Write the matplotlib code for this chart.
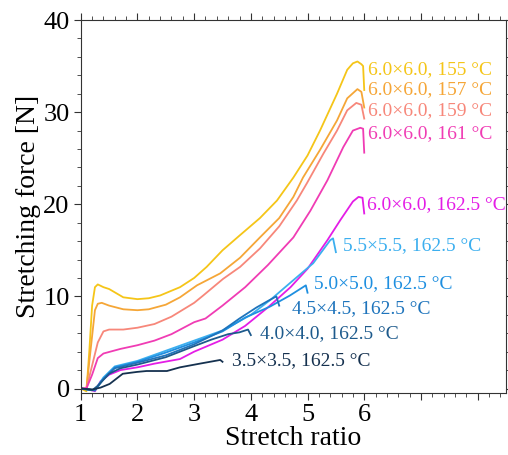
import matplotlib.pyplot as plt
from matplotlib.ticker import MultipleLocator

plt.rcParams['font.family'] = ['Liberation Serif', 'DejaVu Serif']

# 6.0x6.0 draw ratio at different temperatures
x_155 = [1.0, 1.1, 1.15, 1.2, 1.25, 1.3, 1.4, 1.5, 1.75, 2.0, 2.2, 2.4, 2.75, 3.0, 3.22, 3.5, 3.8,
         4.16, 4.46, 4.75, 5.0, 5.22, 5.52, 5.7, 5.8, 5.88, 5.95, 5.98, 6.0]
y_155 = [0, -0.3, 4.0, 9.0, 11.0, 11.3, 11.0, 10.8, 9.9, 9.7, 9.8, 10.1, 11.0, 12.0, 13.2, 15.0, 16.6,
         18.5, 20.4, 22.9, 25.3, 28.0, 32.0, 34.6, 35.3, 35.5, 35.2, 35.0, 32.4]

x_157 = [1.0, 1.1, 1.17, 1.25, 1.3, 1.37, 1.5, 1.75, 2.0, 2.2, 2.5, 2.75, 3.05, 3.46, 3.81, 4.16,
         4.5, 4.75, 4.92, 5.22, 5.52, 5.7, 5.88, 5.95, 6.0]
y_157 = [0, 0, 4.0, 8.5, 9.2, 9.3, 9.0, 8.6, 8.5, 8.6, 9.1, 9.9, 11.2, 12.5, 14.2, 16.4,
         18.5, 20.8, 22.9, 25.9, 29.1, 31.5, 32.5, 32.2, 30.5]

x_159 = [1.0, 1.1, 1.2, 1.3, 1.4, 1.5, 1.75, 2.0, 2.3, 2.6, 3.0, 3.16, 3.51, 3.81, 4.16, 4.5,
         4.81, 4.99, 5.28, 5.52, 5.7, 5.86, 5.95, 6.0]
y_159 = [0, 0, 2.5, 5.0, 6.2, 6.4, 6.4, 6.6, 7.0, 7.8, 9.3, 10.1, 11.9, 13.2, 15.2, 17.6,
         20.4, 22.3, 25.5, 28.0, 30.2, 31.0, 30.8, 29.3]

x_161 = [1.0, 1.1, 1.2, 1.3, 1.4, 1.7, 2.0, 2.3, 2.6, 3.0, 3.2, 3.5, 3.9, 4.3, 4.75, 5.05,
         5.35, 5.63, 5.8, 5.93, 5.98, 6.0]
y_161 = [0, 0, 1.5, 3.3, 3.8, 4.3, 4.7, 5.2, 5.9, 7.2, 7.6, 9.0, 11.0, 13.4, 16.4, 19.3,
         22.6, 26.2, 28.0, 28.3, 28.2, 25.6]

# 162.5 degC at different draw ratios
x_60 = [1.0, 1.1, 1.25, 1.35, 1.5, 1.7, 2.0, 2.3, 2.75, 3.0, 3.5, 3.9, 4.3, 4.7, 5.0, 5.35,
        5.58, 5.8, 5.9, 5.97, 6.0]
y_60 = [0, 0, -0.3, 0.8, 1.5, 2.0, 2.3, 2.7, 3.2, 4.0, 5.3, 6.8, 8.8, 11.0, 13.0, 16.1,
        18.3, 20.3, 20.8, 20.7, 19.0]

x_55 = [1.0, 1.25, 1.4, 1.6, 2.0, 2.5, 3.0, 3.5, 4.0, 4.34, 4.7, 5.1, 5.4, 5.45, 5.5]
y_55 = [0, -0.2, 1.2, 2.4, 3.0, 4.1, 5.2, 6.3, 8.0, 9.6, 11.5, 13.6, 16.1, 16.3, 14.8]

x_50 = [1.0, 1.25, 1.4, 1.6, 2.0, 2.5, 3.0, 3.5, 3.9, 4.34, 4.69, 4.97, 5.0]
y_50 = [0, -0.2, 1.1, 2.3, 2.9, 3.9, 5.0, 6.2, 7.7, 8.9, 10.1, 11.2, 10.4]

x_45 = [1.0, 1.25, 1.4, 1.6, 2.0, 2.5, 3.0, 3.5, 3.8, 4.1, 4.3, 4.45, 4.5]
y_45 = [0, -0.2, 1.0, 2.2, 2.8, 3.6, 4.8, 6.3, 7.6, 8.8, 9.5, 10.0, 9.0]

x_40 = [1.0, 1.2, 1.3, 1.5, 1.7, 2.0, 2.5, 3.0, 3.3, 3.6, 3.8, 3.95, 4.0]
y_40 = [0, -0.2, 0.3, 1.6, 2.2, 2.6, 3.4, 4.6, 5.3, 5.9, 6.1, 6.4, 5.8]

x_35 = [1.0, 1.21, 1.35, 1.51, 1.74, 1.99, 2.16, 2.52, 2.75, 3.1, 3.46, 3.5]
y_35 = [0, -0.1, 0.1, 0.5, 1.6, 1.8, 1.9, 1.9, 2.3, 2.7, 3.1, 2.9]

labels = ['6.0×6.0, 155 °C', '6.0×6.0, 157 °C', '6.0×6.0, 159 °C', '6.0×6.0, 161 °C',
          '6.0×6.0, 162.5 °C', '5.5×5.5, 162.5 °C', '5.0×5.0, 162.5 °C',
          '4.5×4.5, 162.5 °C', '4.0×4.0, 162.5 °C', '3.5×3.5, 162.5 °C']
colors = ['#F5C518', '#F5A637', '#F7877A', '#F03CB4', '#E41DE6',
          '#3CAFEF', '#1E8FE0', '#1E74BC', '#1D5A8C', '#15314F']
label_x = [6.07, 6.07, 6.07, 6.07, 6.05, 5.63, 5.12, 4.73, 4.16, 3.67]
label_y = [34.6, 32.4, 30.2, 27.7, 20.0, 15.5, 11.4, 8.7, 6.0, 3.0]

xs = [x_155, x_157, x_159, x_161, x_60, x_55, x_50, x_45, x_40, x_35]
ys = [y_155, y_157, y_159, y_161, y_60, y_55, y_50, y_45, y_40, y_35]

fig = plt.figure(figsize=(5.08, 4.55), dpi=100)
ax = fig.add_axes([0.159, 0.136, 0.837, 0.82])

for x, y, c, lab, lx, ly in zip(xs, ys, colors, labels, label_x, label_y):
    ax.plot(x, y, color=c, lw=1.3)
    ax.text(lx, ly, lab, color=c, fontsize=14, va='center', ha='left')

ax.set_xlim(1, 8.5)
ax.set_ylim(-0.5, 40)
ax.set_xticks(range(1, 9))
ax.set_xticklabels(['1', '2', '3', '4', '5', '6', '', ''])
ax.set_yticks([0, 10, 20, 30, 40])
ax.xaxis.set_minor_locator(MultipleLocator(0.2))
ax.yaxis.set_minor_locator(MultipleLocator(2))
ax.tick_params(which='both', direction='out', top=True, right=True, labelsize=19, color='#333333')
ax.tick_params(which='major', length=5, pad=3)
ax.tick_params(which='minor', length=3)
for s in ax.spines.values():
    s.set_color('#333333')

ax.set_xlabel('Stretch ratio', fontsize=20, labelpad=0)
ax.set_ylabel('Stretching force [N]', fontsize=20, labelpad=2)

fig.savefig('out.png', dpi=100)
